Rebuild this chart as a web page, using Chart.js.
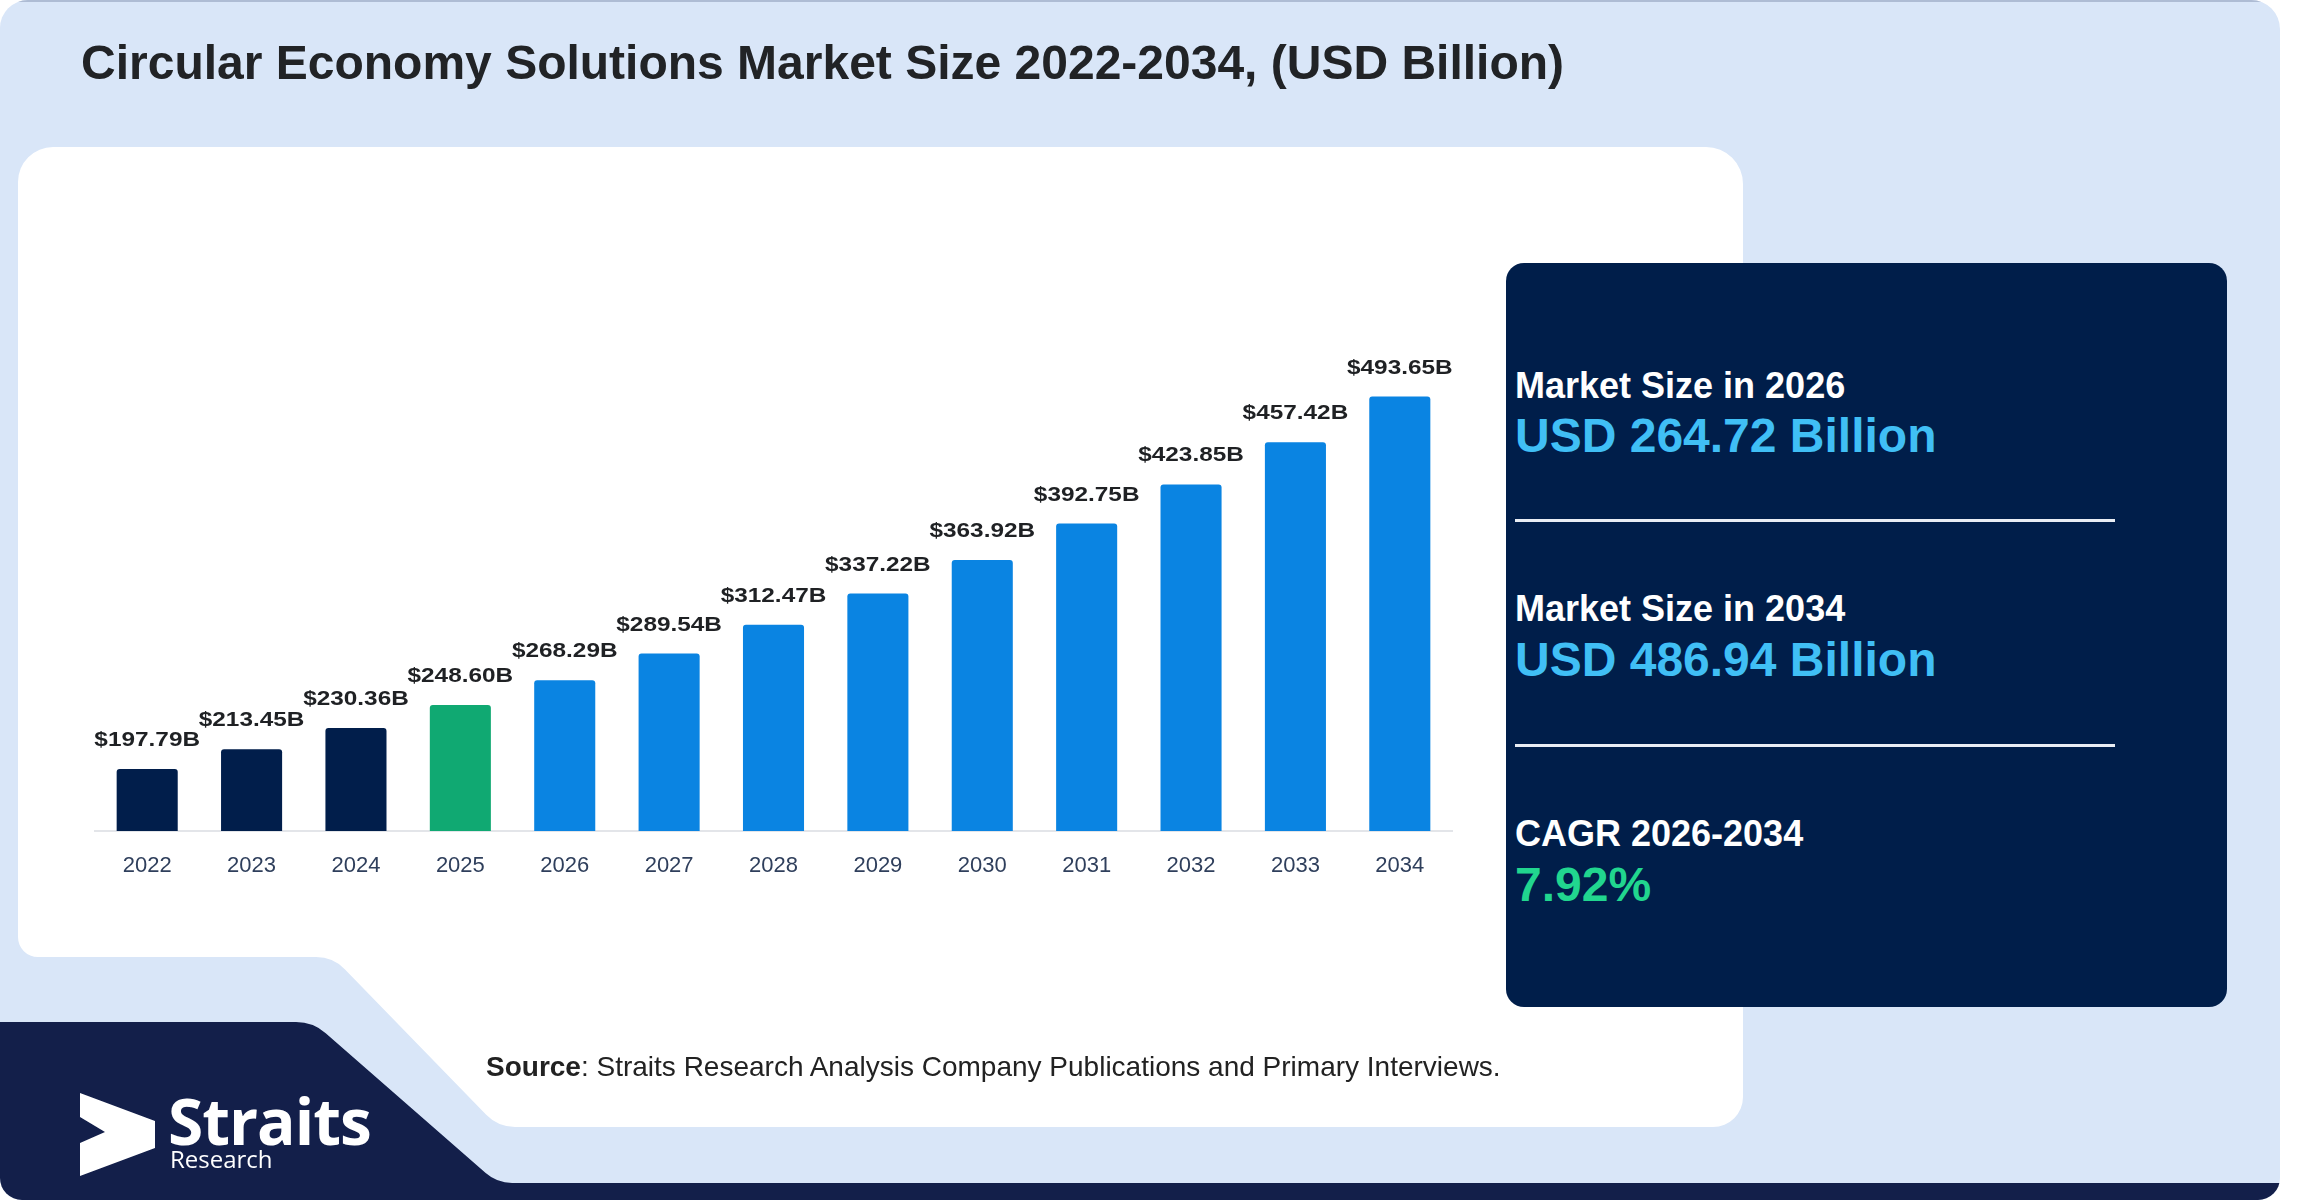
<!DOCTYPE html>
<html>
<head>
<meta charset="utf-8">
<title>Circular Economy Solutions Market Size 2022-2034</title>
<script src="https://cdn.jsdelivr.net/npm/chart.js@4.4.1/dist/chart.umd.min.js"></script>
<style>
    body { margin: 0; width: 2310px; height: 1200px; overflow: hidden; background: #ffffff; position: relative; font-family: "Liberation Sans", Arial, sans-serif; }
    canvas { position: absolute; }
    #bg { left: 0; top: 0; }
    #chart { left: 0; top: 300px; }
    .txt { position: absolute; line-height: 1; white-space: nowrap; }
    #title { left: 81px; top: 39px; font-size: 48px; font-weight: bold; color: #212326; }
    #source { left: 486px; top: 1053px; font-size: 28px; color: #222; }
    #source b { font-weight: bold; }
    #panel { position: absolute; left: 1506px; top: 263px; width: 721px; height: 744px; background: #001e4a; border-radius: 18px; }
    .lbl { left: 1515px; font-size: 36px; font-weight: bold; color: #ffffff; }
    .val { left: 1515px; font-size: 48px; font-weight: bold; color: #40bff5; }
    .rule { position: absolute; left: 1515px; width: 600px; height: 3px; background: #e9edf4; }
    #logo1 { left: 168px; top: 1089px; font-family: "Open Sans", sans-serif; font-size: 64px; font-weight: bold; color: #fff; letter-spacing: -1px; }
    #logo2 { left: 170px; top: 1147px; font-family: "Open Sans", sans-serif; font-size: 24px; color: #fff; }
</style>
</head>
<body>
<canvas id="bg" width="2310" height="1200"></canvas>
<canvas id="chart" width="1760" height="600"></canvas>

<div class="txt" id="title">Circular Economy Solutions Market Size 2022-2034, (USD Billion)</div>

<div id="panel"></div>
<div class="txt lbl" id="lbl1" style="top:368px"></div>
<div class="txt val" id="val1" style="top:412px"></div>
<div class="rule" style="top:519px"></div>
<div class="txt lbl" id="lbl2" style="top:591px"></div>
<div class="txt val" id="val2" style="top:636px"></div>
<div class="rule" style="top:744px"></div>
<div class="txt lbl" id="lbl3" style="top:816px"></div>
<div class="txt val" id="val3" style="top:861px; color:#21d68f"></div>

<div class="txt" id="source"><b>Source</b>: Straits Research Analysis Company Publications and Primary Interviews.</div>
<div class="txt" id="logo1">Straits</div>
<div class="txt" id="logo2">Research</div>

<script>
// ==== Data ====
const years = ['2022', '2023', '2024', '2025', '2026', '2027', '2028', '2029', '2030', '2031', '2032', '2033', '2034'];
const marketSize = [197.79, 213.45, 230.36, 248.60, 268.29, 289.54, 312.47, 337.22, 363.92, 392.75, 423.85, 457.42, 493.65];
const baseYear = '2025';

const summaryLabels = ['Market Size in 2026', 'Market Size in 2034', 'CAGR 2026-2034'];
const summaryValues = ['USD 264.72 Billion', 'USD 486.94 Billion', '7.92%'];

// ==== Styles ====
const NAVY = '#011e4b';
const GREEN = '#10a972';
const BLUE = '#0a84e2';
const Y_MIN = 148.6;
const Y_MAX = 520.3;

// ==== Summary panel text ====
summaryLabels.forEach((t, i) => document.getElementById('lbl' + (i + 1)).textContent = t);
summaryValues.forEach((t, i) => document.getElementById('val' + (i + 1)).textContent = t);

// ==== Background shapes ====
function drawBackground() {
    const ctx = document.getElementById('bg').getContext('2d');

    // outer frame
    ctx.save();
    ctx.beginPath();
    ctx.roundRect(0, 0, 2280, 1200, [28, 29, 22, 22]);
    ctx.fillStyle = '#d9e6f8';
    ctx.fill();
    ctx.clip();

    ctx.strokeStyle = '#aebcd4';
    ctx.lineWidth = 2;
    ctx.beginPath();
    ctx.moveTo(0, 1);
    ctx.lineTo(2280, 1);
    ctx.stroke();

    // white card with the cut corner
    ctx.beginPath();
    ctx.moveTo(18, 182);
    ctx.arcTo(18, 147, 53, 147, 35);
    ctx.lineTo(1706, 147);
    ctx.arcTo(1743, 147, 1743, 184, 37);
    ctx.lineTo(1743, 1097);
    ctx.arcTo(1743, 1127, 1713, 1127, 30);
    ctx.lineTo(540, 1127);
    ctx.arcTo(498, 1127, 333, 957, 40);
    ctx.arcTo(333, 957, 18, 957, 40);
    ctx.arcTo(18, 957, 18, 920, 20);
    ctx.closePath();
    ctx.fillStyle = '#ffffff';
    ctx.fill();

    // navy shape bottom left and bottom strip
    ctx.beginPath();
    ctx.moveTo(0, 1022);
    ctx.lineTo(260, 1022);
    ctx.arcTo(313, 1022, 497, 1183, 45);
    ctx.arcTo(497, 1183, 2280, 1183, 40);
    ctx.lineTo(2280, 1183);
    ctx.lineTo(2280, 1200);
    ctx.lineTo(0, 1200);
    ctx.closePath();
    ctx.fillStyle = '#131f4a';
    ctx.fill();

    // logo mark
    ctx.beginPath();
    ctx.moveTo(80, 1093);
    ctx.lineTo(155, 1121);
    ctx.lineTo(155, 1148);
    ctx.lineTo(80, 1176);
    ctx.lineTo(80, 1143);
    ctx.lineTo(105, 1132);
    ctx.lineTo(80, 1117);
    ctx.closePath();
    ctx.fillStyle = '#ffffff';
    ctx.fill();
    ctx.restore();
}
drawBackground();

// ==== Bar value labels ====
const barLabels = {
    id: 'barLabels',
    afterDatasetsDraw(chart) {
        const ctx = chart.ctx;
        const meta = chart.getDatasetMeta(0);
        ctx.save();
        ctx.font = 'bold 21px "Liberation Sans", Arial, sans-serif';
        ctx.fillStyle = '#1f2124';
        ctx.textAlign = 'center';
        ctx.textBaseline = 'alphabetic';
        meta.data.forEach((bar, i) => {
            ctx.save();
            ctx.translate(bar.x, bar.y - 23);
            ctx.scale(1.16, 1);
            ctx.fillText('$' + marketSize[i].toFixed(2) + 'B', 0, 0);
            ctx.restore();
        });
        ctx.restore();
    }
};

function barColor(year) {
    if (year < baseYear) return NAVY;
    if (year === baseYear) return GREEN;
    return BLUE;
}

// ==== Chart ====
new Chart(document.getElementById('chart'), {
    type: 'bar',
    data: {
        labels: years,
        datasets: [{
            data: marketSize,
            backgroundColor: years.map(barColor),
            borderRadius: 3,
            categoryPercentage: 1,
            barPercentage: 0.585
        }]
    },
    options: {
        responsive: false,
        animation: false,
        layout: { padding: { left: 95, right: 308, top: 63, bottom: 9 } },
        plugins: { legend: { display: false }, tooltip: { enabled: false } },
        scales: {
            x: {
                grid: { display: false, drawTicks: false },
                border: { display: true, color: '#e3e5e9', width: 2 },
                ticks: {
                    padding: 22,
                    color: '#2f3f5c',
                    font: { family: '"Liberation Sans", Arial, sans-serif', size: 22 }
                },
                afterFit: scale => { scale.height = 60; }
            },
            y: {
                display: false,
                min: Y_MIN,
                max: Y_MAX
            }
        }
    },
    plugins: [barLabels]
});
</script>
</body>
</html>
